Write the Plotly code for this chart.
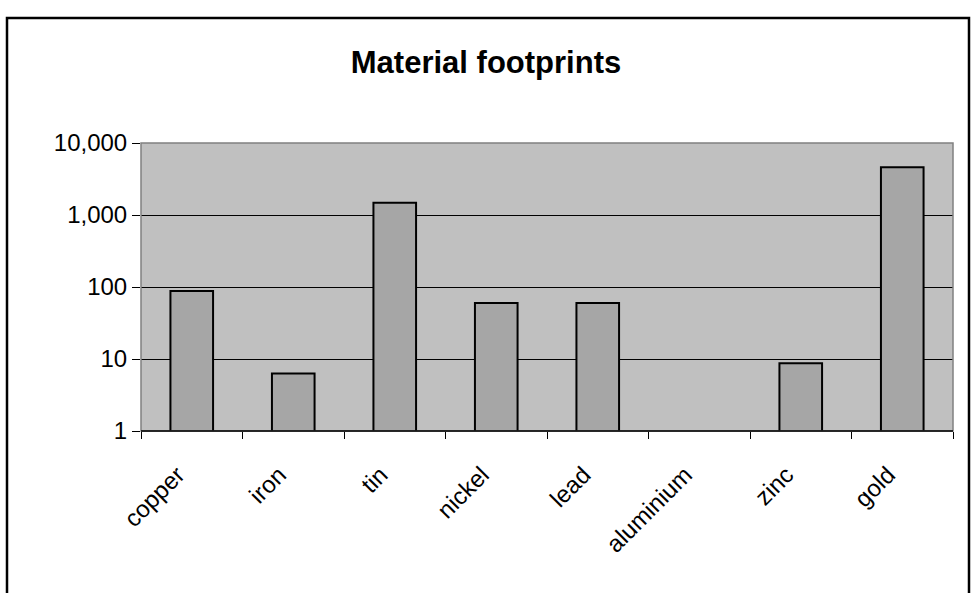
import plotly.graph_objects as go

categories = ["copper", "iron", "tin", "nickel", "lead", "aluminium", "zinc", "gold"]
values = [88, 6.3, 1475, 60, 60, None, 8.7, 4600]
tick_vals = [1, 10, 100, 1000, 10000]
tick_text = ["1", "10", "100", "1,000", "10,000"]

W, H = 972, 593
L, R, T, B = 141, 953, 143, 431
pw, ph = R - L, B - T

def px_x(x):
    return (x - L) / pw

def px_y(y):
    return (B - y) / ph

fig = go.Figure()
fig.add_trace(go.Bar(
    x=categories, y=values,
    marker=dict(color="#A6A6A6", line=dict(color="black", width=2)),
    width=0.42,
))

pad = "\u00a0" * 3

fig.update_layout(
    width=W, height=H,
    margin=dict(l=L, r=W - R, t=T, b=H - B),
    paper_bgcolor="white",
    plot_bgcolor="#C0C0C0",
    showlegend=False,
    font=dict(family="Liberation Sans, Arial, sans-serif", color="black", size=24),
    title=dict(text="<b>Material footprints</b>", x=0.5, xanchor="center",
               y=1 - 62 / H, yanchor="middle",
               font=dict(size=31, family="Liberation Sans, Arial, sans-serif", color="black")),
    xaxis=dict(
        type="category",
        tickson="boundaries",
        tickvals=categories,
        ticktext=[c + pad for c in categories],
        ticks="outside", ticklen=7, tickcolor="black", tickwidth=1,
        showline=False,
        tickangle=-45,
        tickfont=dict(size=24),
        ticklabelstandoff=10,
        showgrid=False,
    ),
    yaxis=dict(
        type="log", range=[0, 4],
        tickvals=tick_vals, ticktext=tick_text,
        ticks="outside", ticklen=8, tickcolor="black", tickwidth=1,
        showgrid=True, gridcolor="black", gridwidth=1,
        showline=False, zeroline=False,
        tickfont=dict(size=24),
    ),
    shapes=[
        dict(type="rect", xref="paper", yref="paper", x0=0, x1=1, y0=0, y1=1,
             line=dict(color="#808080", width=1.5), layer="above"),
        dict(type="line", xref="paper", yref="paper", x0=0, x1=1, y0=0, y1=0,
             line=dict(color="black", width=1.5), layer="above"),
        dict(type="rect", xref="paper", yref="paper",
             x0=px_x(7), x1=px_x(969), y0=px_y(18), y1=px_y(H + 20),
             line=dict(color="black", width=2.5), layer="below"),
    ],
)

fig.write_html("out.html", config={"displayModeBar": False},
               post_script="document.body.style.margin='0';")
